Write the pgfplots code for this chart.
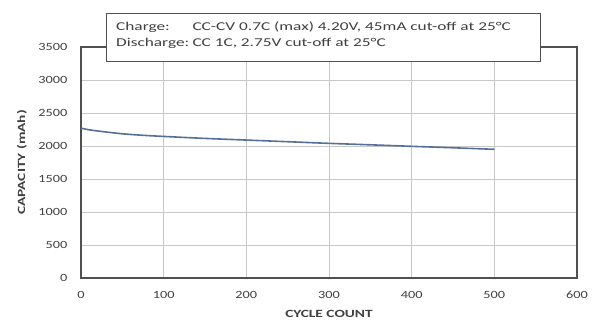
\documentclass[border=0pt]{standalone}
\usepackage{graphicx}
\usepackage{pgfplots}
\pgfplotsset{compat=1.18}
\usepackage{fontspec}
\setmainfont{Carlito}
\definecolor{curve}{RGB}{84,112,150}
\definecolor{gridc}{RGB}{200,200,200}
\definecolor{axc}{RGB}{80,80,80}
\newcommand\wx[1]{\scalebox{1.4}[1]{#1}}
\newcommand\wb[1]{\scalebox{1.44}[1]{#1}}
\begin{document}
\begin{tikzpicture}
\path[use as bounding box] (-81pt,-42pt) rectangle (513pt,278pt);
\begin{axis}[
  scale only axis,
  width=496pt, height=231pt,
  xmin=0, xmax=600, ymin=0, ymax=3500,
  xtick={0,100,...,600}, ytick={0,500,...,3500},
  grid=major,
  major grid style={gridc, line width=0.6pt},
  axis line style={axc, line width=1.2pt},
  tick style={draw=none},
  ticklabel style={font=\fontsize{11}{12}\selectfont, text=black!75},
  xticklabel={\scalebox{1.3}[1]{\pgfmathprintnumber{\tick}}},
  yticklabel={\scalebox{1.3}[1]{\pgfmathprintnumber{\tick}}},
  xticklabel style={anchor=center, yshift=-17pt},
  yticklabel style={anchor=east, xshift=-10pt},
  /pgf/number format/assume math mode=true,
  /pgf/number format/set thousands separator={},
  xlabel={\wx{\textbf{CYCLE COUNT}}},
  ylabel={\wx{\textbf{CAPACITY (mAh)}}},
  label style={font=\fontsize{11}{12}\selectfont, text=black!75},
  xlabel style={at={(axis description cs:0.5,0)}, anchor=center, yshift=-36pt},
  ylabel style={at={(axis description cs:-0.119,0.5)}, anchor=center},
  clip=false,
]
\addplot[curve, line width=1.6pt, smooth] coordinates {
(0,2270) (10,2245) (25,2220) (50,2185) (75,2162) (100,2145) (150,2115) (200,2090) (250,2065) (300,2040) (350,2018) (400,1995) (450,1973) (500,1950)
};
\end{axis}
\node[draw=axc, line width=1.2pt, fill=white, anchor=north west, minimum width=434pt, minimum height=48pt, inner sep=0pt] (box) at (25pt,265pt) {};
\node[anchor=north west, inner sep=0pt, text=black!75, font=\fontsize{12}{16}\selectfont, align=left] at ([xshift=10pt,yshift=-9pt]box.north west)
{\wb{\makebox[53pt][l]{Charge:}CC-CV 0.7C (max) 4.20V, 45mA cut-off at 25°C}\\ \wb{\makebox[53pt][l]{Discharge:}CC 1C, 2.75V cut-off at 25°C}};
\end{tikzpicture}
\end{document}
